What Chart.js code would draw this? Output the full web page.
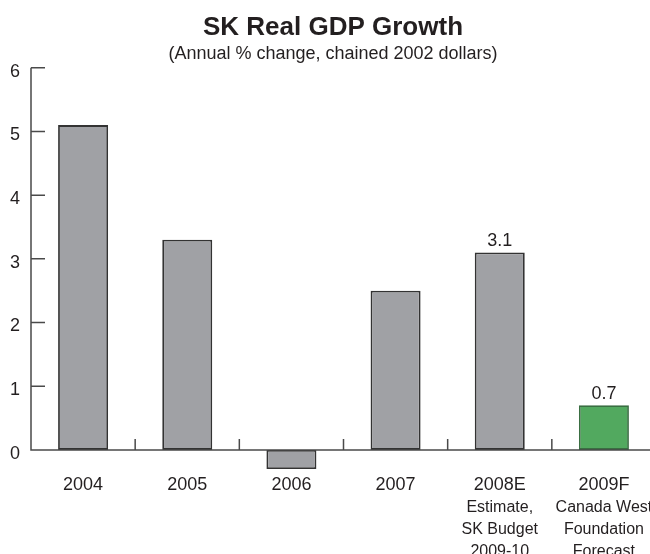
<!DOCTYPE html>
<html>
<head>
<meta charset="utf-8">
<title>SK Real GDP Growth</title>
<script src="https://cdn.jsdelivr.net/npm/chart.js@4.4.1/dist/chart.umd.min.js"></script>
<style>
  html, body { margin: 0; padding: 0; background: #fff; overflow: hidden; }
  #wrap { width: 656px; height: 554px; }
</style>
</head>
<body>
<div id="wrap"><canvas id="gdpChart"></canvas></div>
<script>
// SK real GDP growth, annual % change
const years = ['2004', '2005', '2006', '2007', '2008E', '2009F'];
const notes = [[], [], [], [], ['Estimate,', 'SK Budget', '2009-10'], ['Canada West', 'Foundation', 'Forecast']];
const growth = [5.1, 3.3, -0.3, 2.5, 3.1, 0.7];
const showValue = [false, false, false, false, true, true];
const yTicks = [0, 1, 2, 3, 4, 5, 6];

const FONT = "'Liberation Sans', Arial, sans-serif";
const INK = '#231f20';
const AXIS = '#4a4a4a';
const barFill = growth.map((v, i) => i === growth.length - 1 ? '#52a95f' : '#a0a1a5');
const barEdge = growth.map((v, i) => i === growth.length - 1 ? '#3a6e42' : '#333333');

// axis lines and inward tick marks, value labels, extra label lines
const decorations = {
    id: 'decorations',
    afterDatasetsDraw(chart) {
        const { ctx, chartArea, scales: { x, y } } = chart;
        const zero = y.getPixelForValue(0);
        const top = y.getPixelForValue(yTicks[yTicks.length - 1]);
        const step = x.getPixelForValue(1) - x.getPixelForValue(0);

        ctx.save();
        ctx.strokeStyle = AXIS;
        ctx.lineWidth = 1.5;
        ctx.beginPath();
        ctx.moveTo(chartArea.left, top);
        ctx.lineTo(chartArea.left, zero);
        ctx.lineTo(chartArea.right, zero);
        yTicks.forEach(v => {
            const py = y.getPixelForValue(v);
            ctx.moveTo(chartArea.left, py);
            ctx.lineTo(chartArea.left + 14, py);
        });
        for (let i = 1; i < years.length; i++) {
            const px = x.getPixelForValue(i) - step / 2;
            ctx.moveTo(px, zero);
            ctx.lineTo(px, zero - 11);
        }
        ctx.stroke();

        ctx.fillStyle = INK;
        ctx.textAlign = 'center';
        ctx.textBaseline = 'alphabetic';
        ctx.font = '18px ' + FONT;
        const meta = chart.getDatasetMeta(0);
        growth.forEach((v, i) => {
            if (!showValue[i]) return;
            const bar = meta.data[i];
            ctx.fillText(v.toFixed(1), bar.x, bar.y - 6);
        });

        ctx.font = '16px ' + FONT;
        notes.forEach((lines, i) => {
            const px = x.getPixelForValue(i);
            lines.forEach((t, k) => {
                ctx.fillText(t, px, 512 + k * 22);
            });
        });
        ctx.restore();
    }
};

new Chart(document.getElementById('gdpChart'), {
    type: 'bar',
    data: {
        labels: years,
        datasets: [{
            data: growth,
            backgroundColor: barFill,
            borderColor: barEdge,
            borderWidth: 1.8,
            borderSkipped: false,
            barPercentage: 0.6,
            categoryPercentage: 0.8
        }]
    },
    options: {
        responsive: true,
        maintainAspectRatio: false,
        animation: false,
        layout: { padding: { left: 10, right: 0, top: 0, bottom: 0 } },
        plugins: {
            legend: { display: false },
            tooltip: { enabled: false },
            title: {
                display: true,
                text: 'SK Real GDP Growth',
                color: INK,
                font: { family: FONT, size: 26, weight: 'bold' },
                padding: { top: 12, bottom: 0 }
            },
            subtitle: {
                display: true,
                text: '(Annual % change, chained 2002 dollars)',
                color: INK,
                font: { family: FONT, size: 18 },
                padding: { top: 0, bottom: 3 }
            }
        },
        scales: {
            x: {
                grid: { display: false, drawTicks: false },
                border: { display: false },
                ticks: { color: INK, font: { family: FONT, size: 18 }, padding: 5, maxRotation: 0, autoSkip: false },
                afterFit(scale) { scale.height = 85; }
            },
            y: {
                min: -0.3,
                max: 6,
                grid: { display: false, drawTicks: false },
                border: { display: false },
                ticks: { stepSize: 1, color: INK, font: { family: FONT, size: 18 }, padding: 11, labelOffset: 4 },
                afterBuildTicks(scale) {
                    scale.ticks = yTicks.map(v => ({ value: v }));
                },
                afterFit(scale) { scale.width = 21; }
            }
        }
    },
    plugins: [decorations]
});
</script>
</body>
</html>
